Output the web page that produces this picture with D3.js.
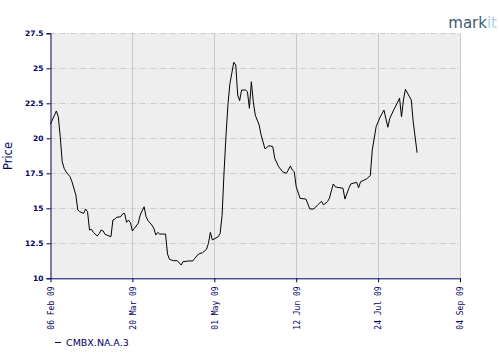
<!DOCTYPE html>
<html>
<head>
<meta charset="utf-8">
<script src="https://cdn.jsdelivr.net/npm/d3@7/dist/d3.min.js"></script>
<style>
  html, body { margin: 0; padding: 0; background: #ffffff; }
  svg { display: block; }
</style>
</head>
<body>
<svg id="chart" width="500" height="360"></svg>
<script>
// ---- data ----
const dates = [
  "2009-02-06","2009-02-09","2009-02-10","2009-02-11","2009-02-12","2009-02-13","2009-02-14","2009-02-16",
  "2009-02-17","2009-02-19","2009-02-20","2009-02-21","2009-02-23","2009-02-24","2009-02-25","2009-02-26",
  "2009-02-27","2009-02-28","2009-03-02","2009-03-03","2009-03-04","2009-03-05","2009-03-06","2009-03-09",
  "2009-03-10","2009-03-11","2009-03-12","2009-03-14","2009-03-15","2009-03-16","2009-03-17","2009-03-18",
  "2009-03-19","2009-03-20","2009-03-21","2009-03-23","2009-03-24","2009-03-26","2009-03-27","2009-03-28",
  "2009-03-30","2009-03-31","2009-04-01","2009-04-02","2009-04-03","2009-04-06","2009-04-07","2009-04-08",
  "2009-04-10","2009-04-12","2009-04-14","2009-04-15","2009-04-18","2009-04-20","2009-04-21","2009-04-23",
  "2009-04-25","2009-04-27","2009-04-28","2009-04-29","2009-04-30","2009-05-03","2009-05-04","2009-05-05",
  "2009-05-06","2009-05-07","2009-05-08","2009-05-09","2009-05-11","2009-05-12","2009-05-13","2009-05-14",
  "2009-05-15","2009-05-17","2009-05-18","2009-05-19","2009-05-20","2009-05-21","2009-05-22","2009-05-24",
  "2009-05-25","2009-05-27","2009-05-29","2009-05-31","2009-06-01","2009-06-03","2009-06-05","2009-06-07",
  "2009-06-09","2009-06-10","2009-06-11","2009-06-12","2009-06-14","2009-06-17","2009-06-19","2009-06-21",
  "2009-06-23","2009-06-25","2009-06-26","2009-06-28","2009-06-29","2009-07-01","2009-07-02","2009-07-03",
  "2009-07-06","2009-07-07","2009-07-09","2009-07-10","2009-07-13","2009-07-14","2009-07-15","2009-07-18",
  "2009-07-20","2009-07-21","2009-07-23","2009-07-25","2009-07-27","2009-07-29","2009-07-30","2009-08-01",
  "2009-08-04","2009-08-05","2009-08-06","2009-08-07","2009-08-10","2009-08-11","2009-08-13"
];
const prices = [
  21.02,21.95,21.54,20.10,18.33,17.86,17.60,17.26,
  16.90,15.95,14.88,14.76,14.64,14.95,14.76,13.45,
  13.50,13.28,13.02,13.20,13.45,13.38,13.14,12.97,
  14.16,14.24,14.36,14.40,14.60,14.64,14.00,14.16,
  13.97,13.38,13.57,13.93,14.52,15.11,14.40,14.12,
  13.80,13.57,13.09,13.28,13.16,13.16,11.74,11.36,
  11.26,11.26,10.95,11.19,11.24,11.24,11.43,11.74,
  11.83,12.07,12.50,13.28,12.74,12.97,13.21,14.50,
  17.60,20.20,22.40,23.90,25.43,25.24,23.09,22.69,
  23.45,23.45,23.33,22.14,24.04,22.61,21.66,20.95,
  20.24,19.24,19.47,19.40,18.57,17.97,17.61,17.50,
  18.02,17.74,17.61,16.54,15.71,15.66,14.95,14.95,
  15.24,15.50,15.24,15.47,15.71,16.74,16.54,16.50,
  16.43,15.66,16.43,16.74,16.86,16.47,16.90,17.09,
  17.33,19.16,20.83,21.50,22.02,20.79,21.43,22.02,
  22.86,21.54,22.74,23.50,22.74,21.19,18.97
];
const xTickDates = ["2009-02-06","2009-03-20","2009-05-01","2009-06-12","2009-07-24","2009-09-04"];
const yTicks = [10, 12.5, 15, 17.5, 20, 22.5, 25, 27.5];
const seriesName = "CMBX.NA.A.3";
const yTitle = "Price";

// ---- drawing ----
const parse = d3.timeParse("%Y-%m-%d");
const fmtX = d3.timeFormat("%d %b %y");
const data = dates.map((d, i) => ({ date: parse(d), value: prices[i] }));

const navy = "#000066";
const L = 50.5, R = 460, T = 33.3, B = 278.3;

const x = d3.scaleTime()
  .domain([parse(xTickDates[0]), parse(xTickDates[xTickDates.length - 1])])
  .range([L, R]);
const y = d3.scaleLinear().domain([10, 27.5]).range([B, T]);

const svg = d3.select("#chart");

// plot background
svg.append("rect")
  .attr("x", L).attr("y", T)
  .attr("width", R - L).attr("height", B - T)
  .attr("fill", "#eeeeee");

// horizontal grid (dash-dot)
svg.append("g")
  .selectAll("line")
  .data(yTicks.filter(v => v > 10))
  .join("line")
  .attr("x1", L).attr("x2", R)
  .attr("y1", d => Math.round(y(d)) + 0.5).attr("y2", d => Math.round(y(d)) + 0.5)
  .attr("stroke", "#c8c8c8")
  .attr("stroke-width", 1)
  .attr("stroke-dasharray", "5,2,1,2");

// vertical grid (solid)
svg.append("g")
  .selectAll("line")
  .data(xTickDates.slice(1).map(parse))
  .join("line")
  .attr("x1", d => Math.round(x(d)) + 0.5).attr("x2", d => Math.round(x(d)) + 0.5)
  .attr("y1", T).attr("y2", B)
  .attr("stroke", "#c8c8c8")
  .attr("stroke-width", 1);

// line
svg.append("path")
  .datum(data)
  .attr("fill", "none")
  .attr("stroke", "#000000")
  .attr("stroke-width", 1)
  .attr("d", d3.line().x(d => x(d.date)).y(d => y(d.value)));

// y axis
const yAxis = svg.append("g")
  .attr("transform", `translate(${L},0)`)
  .call(d3.axisLeft(y).tickValues(yTicks).tickSize(4).tickPadding(3)
    .tickFormat(d => String(d)));
yAxis.select(".domain").attr("stroke", navy);
yAxis.selectAll(".tick line").attr("stroke", navy);
yAxis.selectAll("text")
  .attr("fill", navy)
  .style("font-family", "'DejaVu Sans', sans-serif")
  .style("font-size", "7.5px")
  .style("font-weight", "bold");

// x axis
const xAxis = svg.append("g")
  .attr("transform", `translate(0,${B})`)
  .call(d3.axisBottom(x).tickValues(xTickDates.map(parse)).tickSize(4).tickSizeOuter(0)
    .tickFormat(fmtX));
xAxis.select(".domain").attr("stroke", navy);
xAxis.selectAll(".tick line").attr("stroke", navy);
xAxis.selectAll("text")
  .attr("fill", navy)
  .style("font-family", "'DejaVu Sans Mono', monospace")
  .style("font-size", "8px")
  .attr("text-anchor", "end")
  .attr("transform", "rotate(-90)")
  .attr("x", -8)
  .attr("y", 0)
  .attr("dy", "0.35em");

// y title
svg.append("text")
  .attr("transform", `translate(12,156) rotate(-90)`)
  .attr("text-anchor", "middle")
  .attr("fill", navy)
  .style("font-family", "'DejaVu Sans', sans-serif")
  .style("font-size", "11.5px")
  .text(yTitle);

// legend
svg.append("line")
  .attr("x1", 55).attr("x2", 61)
  .attr("y1", 342.5).attr("y2", 342.5)
  .attr("stroke", navy).attr("stroke-width", 1);
svg.append("text")
  .attr("x", 66).attr("y", 346)
  .attr("fill", navy)
  .style("font-family", "'DejaVu Sans', sans-serif")
  .style("font-size", "9.5px")
  .text(seriesName);

// logo
const logo = svg.append("text")
  .attr("x", 497).attr("y", 27.5)
  .attr("text-anchor", "end")
  .style("font-family", "'DejaVu Sans', sans-serif")
  .style("font-size", "15px");
logo.append("tspan").attr("fill", "#3b5b6e").text("mark");
logo.append("tspan").attr("fill", "#a9d3e3").text("it");
</script>
</body>
</html>
